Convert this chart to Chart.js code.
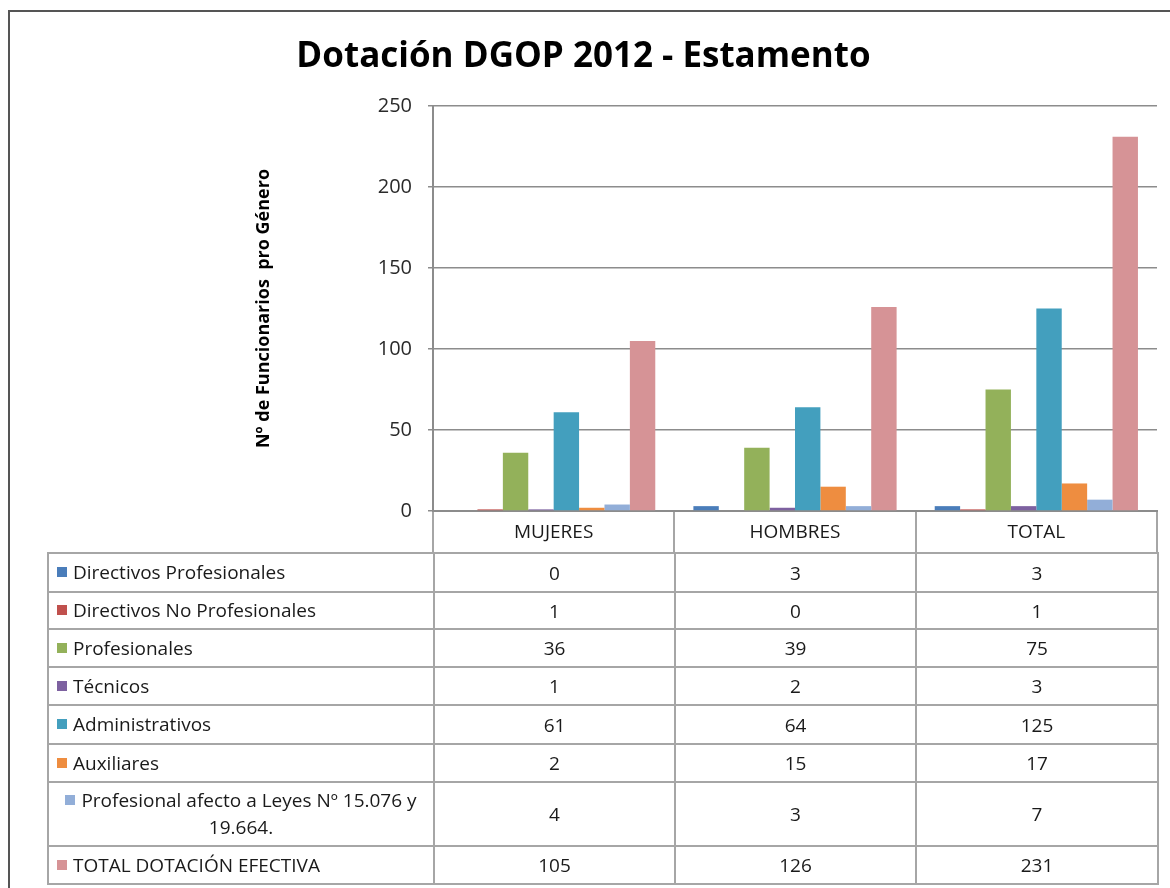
<!DOCTYPE html>
<html><head><meta charset="utf-8">
<script src="https://cdn.jsdelivr.net/npm/chart.js@4/dist/chart.umd.min.js"></script>
<style>
html,body{margin:0;padding:0;background:#fff;}
#wrap{position:relative;width:1170px;height:888px;overflow:hidden;background:#fff;}
#frame{position:absolute;left:8px;top:10px;width:1200px;height:900px;border-left:2px solid #555;border-top:2px solid #555;}
#cv{position:absolute;left:0;top:0;}
#tbl{position:absolute;left:47px;top:552px;border-collapse:collapse;table-layout:fixed;width:1110px;font-family:'Open Sans',sans-serif;font-size:19px;color:#1a1a1a;}
#tbl td{border:2px solid #a6a6a6;padding:0;vertical-align:middle;}
#tbl td.num{text-align:center;}
#tbl td.lab{padding-left:8px;text-align:left;line-height:27px;white-space:nowrap;}
#tbl td.lab.wrap{text-align:center;padding-left:2px;padding-right:2px;white-space:normal;}
.key{display:inline-block;width:10px;height:10px;margin-right:6px;vertical-align:2px;}
</style>
</head><body>
<div id="wrap">
<div id="frame"></div>
<canvas id="cv" width="1170" height="560"></canvas>
<table id="tbl"><colgroup><col style="width:386px"><col style="width:241px"><col style="width:241px"><col style="width:242px"></colgroup><tbody id="tb"></tbody></table>
</div>
<script>
const categories = ['MUJERES', 'HOMBRES', 'TOTAL'];
const seriesNames = [
  'Directivos Profesionales',
  'Directivos No Profesionales',
  'Profesionales',
  'Técnicos',
  'Administrativos',
  'Auxiliares',
  'Profesional afecto a Leyes Nº 15.076 y 19.664.',
  'TOTAL DOTACIÓN EFECTIVA'
];
const directivosProfesionales = [0, 3, 3];
const directivosNoProfesionales = [1, 0, 1];
const profesionales = [36, 39, 75];
const tecnicos = [1, 2, 3];
const administrativos = [61, 64, 125];
const auxiliares = [2, 15, 17];
const profesionalLeyes = [4, 3, 7];
const totalDotacion = [105, 126, 231];
const yTicks = [0, 50, 100, 150, 200, 250];

const seriesData = [directivosProfesionales, directivosNoProfesionales, profesionales, tecnicos,
  administrativos, auxiliares, profesionalLeyes, totalDotacion];
const seriesColors = ['#4A7DBA', '#C0504D', '#93B15A', '#7D61A0', '#439FBE', '#EE8D40', '#92AED8', '#D69396'];
const rowHeights = [39, 37, 38, 38, 39, 38, 64, 38];

const ctx = document.getElementById('cv').getContext('2d');
const chart = new Chart(ctx, {
  type: 'bar',
  data: {
    labels: categories,
    datasets: seriesNames.map((n, i) => ({
      label: n, data: seriesData[i], backgroundColor: seriesColors[i], borderWidth: 0
    }))
  },
  options: {
    responsive: false,
    animation: false,
    layout: { padding: { left: 10, top: 12, right: 13, bottom: 8 } },
    datasets: { bar: { categoryPercentage: 8 / 9.5, barPercentage: 1 } },
    plugins: {
      legend: { display: false },
      tooltip: { enabled: false },
      title: {
        display: true, text: 'Dotación DGOP 2012 - Estamento',
        font: { family: 'Open Sans', size: 35, weight: 'bold' }, color: '#000',
        lineHeight: 1.1,
        padding: { top: 24, bottom: 28 }
      }
    },
    scales: {
      x: {
        grid: { drawOnChartArea: false, offset: true, tickLength: 41, color: '#a6a6a6', lineWidth: 2 },
        border: { color: '#8c8c8c', width: 2 },
        ticks: { padding: -31, font: { family: 'Open Sans', size: 19 }, color: '#1a1a1a' },
        afterFit(s) { s.height = 41; }
      },
      y: {
        min: yTicks[0], max: yTicks[yTicks.length - 1],
        afterBuildTicks(s) { s.ticks = yTicks.map(v => ({ value: v })); },
        ticks: { padding: 16, font: { family: 'Open Sans', size: 20 }, color: '#2a2a2a' },
        grid: { color: '#8c8c8c', lineWidth: 1.5, tickLength: 5 },
        border: { color: '#8c8c8c', width: 2 },
        title: {
          display: true, text: 'Nº de Funcionarios  pro Género',
          font: { family: 'Open Sans', size: 18, weight: 'bold' }, color: '#000',
          padding: { top: 243, bottom: 0 }
        },
        afterFit(s) { s.width = 423; }
      }
    }
  }
});

const tb = document.getElementById('tb');
seriesNames.forEach((n, i) => {
  const tr = document.createElement('tr');
  tr.style.height = rowHeights[i] + 'px';
  const td = document.createElement('td');
  td.className = 'lab' + (n.length > 30 ? ' wrap' : '');
  const k = document.createElement('span');
  k.className = 'key';
  k.style.background = seriesColors[i];
  td.appendChild(k);
  td.appendChild(document.createTextNode(n));
  tr.appendChild(td);
  seriesData[i].forEach(v => {
    const c = document.createElement('td');
    c.className = 'num';
    c.textContent = v;
    tr.appendChild(c);
  });
  tb.appendChild(tr);
});
</script>
</body></html>
